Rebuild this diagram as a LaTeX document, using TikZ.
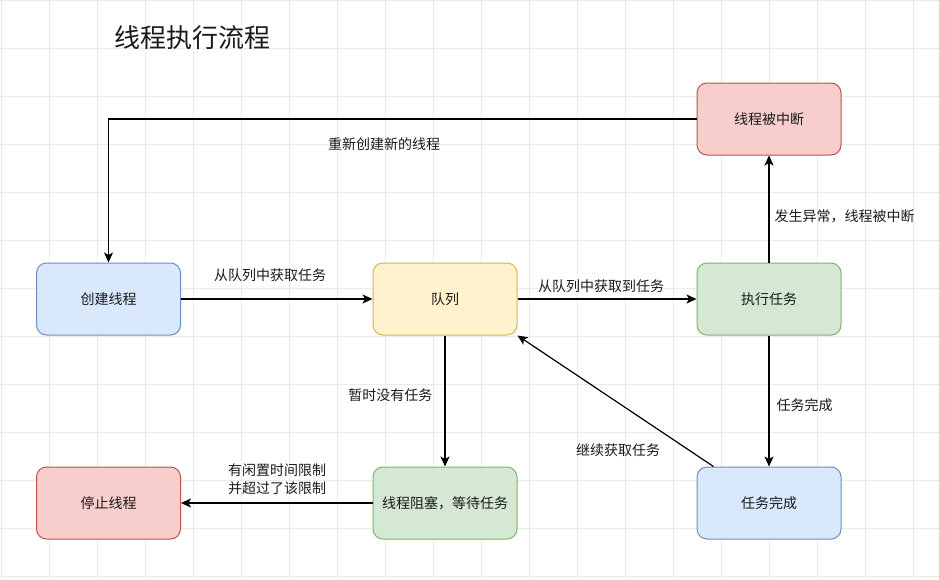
\documentclass[tikz,border=0pt]{standalone}
\usepackage{fontspec}
\newfontfamily\cjk{Noto Sans CJK SC}
\usetikzlibrary{arrows.meta,calc}
\definecolor{bluefill}{HTML}{DAE8FC}\definecolor{bluedraw}{HTML}{6C8EBF}
\definecolor{yelfill}{HTML}{FFF2CC}\definecolor{yeldraw}{HTML}{D6B656}
\definecolor{grnfill}{HTML}{D5E8D4}\definecolor{grndraw}{HTML}{82B366}
\definecolor{redfill}{HTML}{F8CECC}\definecolor{reddraw}{HTML}{B85450}
\definecolor{gridc}{HTML}{EBEBEB}
\definecolor{txt}{HTML}{1A1A1A}
\tikzset{
  box/.style={draw, line width=1pt, rounded corners=10pt, minimum width=144pt, minimum height=72pt,
    inner sep=0pt, font=\cjk\fontsize{14}{17}\selectfont, text=txt},
  bluebox/.style={box, fill=bluefill, draw=bluedraw},
  yelbox/.style={box, fill=yelfill, draw=yeldraw},
  grnbox/.style={box, fill=grnfill, draw=grndraw},
  redbox/.style={box, fill=redfill, draw=reddraw},
  conn/.style={draw=black, line width=1.2pt, -{Stealth[length=10pt,width=9pt,inset=2.5pt]}},
  lbl/.style={font=\cjk\fontsize{14}{18}\selectfont, text=txt, inner sep=0pt, align=center},
}
\begin{document}
\begin{tikzpicture}[x=1pt,y=-1pt]
\useasboundingbox (0,0) rectangle (939,579);
\fill[white] (0,0) rectangle (939,579);
\foreach \i in {0,...,19} {\draw[gridc, line width=0.8pt] ({48*\i+1},0) -- ({48*\i+1},579);}
\foreach \j in {0,...,12} {\draw[gridc, line width=0.8pt] (0,{48*\j}) -- (939,{48*\j});}

\node[font=\cjk\fontsize{26}{30}\selectfont, text=txt, inner sep=0pt] (title) at (192,38) {线程执行流程};

\node[bluebox] (create) at (108.5,299) {创建线程};
\node[yelbox]  (queue)  at (445,299) {队列};
\node[grnbox]  (exec)   at (769,299) {执行任务};
\node[redbox]  (intr)   at (769,119) {线程被中断};
\node[redbox]  (stop)   at (108.5,503) {停止线程};
\node[grnbox]  (block)  at (445,503) {线程阻塞，等待任务};
\node[bluebox] (done)   at (769,503) {任务完成};

\coordinate (doneA) at ($(done.north west)+(17,0)$);

\draw[conn] (intr.west) -| (create.north) node[lbl] at (384,144) {重新创建新的线程};
\draw[conn] (create.east) -- (queue.west) node[lbl] at (270,275) {从队列中获取任务};
\draw[conn] (queue.east) -- (exec.west) node[lbl] at (601,286) {从队列中获取到任务};
\draw[conn] (exec.north) -- (intr.south) node[lbl, anchor=west] at (774,216) {发生异常，线程被中断};
\draw[conn] (exec.south) -- (done.north) node[lbl, anchor=west] at (776,405) {任务完成};
\draw[conn] (doneA) -- (queue.south east) node[lbl] at (618,450) {继续获取任务};
\draw[conn] (queue.south) -- (block.north) node[lbl, anchor=east] at (433,395) {暂时没有任务};
\draw[conn] (block.west) -- (stop.east) node[lbl] at (277,479) {有闲置时间限制\\并超过了该限制};
\end{tikzpicture}
\end{document}
